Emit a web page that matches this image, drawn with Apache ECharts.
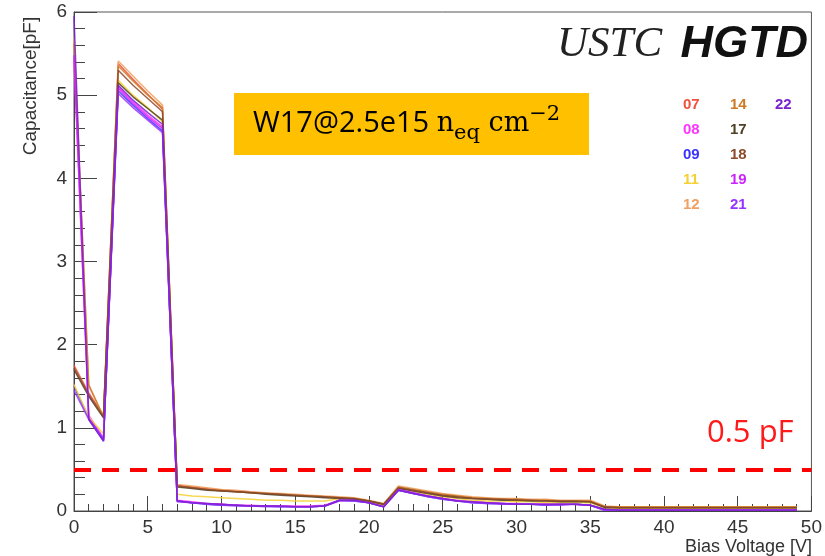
<!DOCTYPE html>
<html>
<head>
<meta charset="utf-8">
<script src="https://cdn.jsdelivr.net/npm/echarts@6/dist/echarts.min.js"></script>
<style>html,body{margin:0;padding:0;background:#fff;}#c{width:825px;height:556px;}</style>
</head>
<body>
<div id="c"></div>
<script>
const voltages = [0,1,2,3,4,5,6,7,8,9,10,11,12,13,14,15,16,17,18,19,20,21,22,23,24,25,26,27,28,29,30,31,32,33,34,35,36,37,38,39,40,41,42,43,44,45,46,47,48,49];

const s07 = [1.75,1.42,1.15,5.38,5.19,5.01,4.83,0.31,0.29,0.27,0.25,0.24,0.23,0.21,0.20,0.19,0.18,0.17,0.16,0.15,0.12,0.08,0.28,0.25,0.22,0.19,0.17,0.16,0.15,0.14,0.14,0.13,0.13,0.12,0.12,0.12,0.05,0.04,0.04,0.04,0.04,0.04,0.04,0.04,0.04,0.04,0.04,0.04,0.04,0.04];
const s08 = [5.42,1.15,0.88,5.10,4.92,4.76,4.62,0.13,0.11,0.09,0.08,0.07,0.07,0.06,0.06,0.06,0.06,0.07,0.13,0.13,0.10,0.06,0.26,0.22,0.18,0.15,0.13,0.11,0.10,0.09,0.09,0.08,0.08,0.08,0.08,0.07,0.02,0.02,0.02,0.02,0.02,0.02,0.02,0.02,0.02,0.02,0.02,0.02,0.02,0.02];
const s09 = [1.50,1.12,0.86,5.05,4.88,4.72,4.57,0.12,0.10,0.08,0.07,0.07,0.06,0.06,0.05,0.05,0.05,0.06,0.13,0.12,0.10,0.05,0.25,0.21,0.17,0.14,0.12,0.10,0.09,0.09,0.08,0.08,0.07,0.08,0.08,0.07,0.01,0.01,0.01,0.01,0.01,0.01,0.01,0.01,0.01,0.01,0.01,0.01,0.01,0.01];
const s11 = [1.52,1.13,0.93,5.18,5.00,4.85,4.68,0.20,0.18,0.17,0.16,0.15,0.14,0.13,0.13,0.12,0.12,0.12,0.15,0.14,0.11,0.07,0.29,0.24,0.20,0.17,0.15,0.13,0.12,0.12,0.11,0.11,0.10,0.10,0.10,0.10,0.04,0.03,0.03,0.03,0.03,0.03,0.03,0.03,0.03,0.03,0.03,0.03,0.03,0.03];
const s12 = [5.70,1.50,1.14,5.41,5.23,5.05,4.88,0.32,0.30,0.28,0.26,0.25,0.23,0.22,0.21,0.20,0.19,0.18,0.17,0.16,0.13,0.09,0.30,0.27,0.24,0.21,0.19,0.17,0.16,0.15,0.15,0.14,0.14,0.13,0.13,0.13,0.06,0.05,0.05,0.05,0.05,0.05,0.05,0.05,0.05,0.05,0.05,0.05,0.05,0.05];
const s14 = [5.62,1.52,1.13,5.35,5.17,5.00,4.85,0.30,0.28,0.26,0.25,0.23,0.22,0.21,0.20,0.19,0.18,0.17,0.16,0.15,0.12,0.08,0.29,0.26,0.23,0.20,0.18,0.16,0.15,0.14,0.14,0.13,0.13,0.12,0.12,0.12,0.05,0.05,0.05,0.05,0.05,0.05,0.05,0.05,0.05,0.05,0.05,0.05,0.05,0.05];
const s17 = [1.70,1.38,1.12,5.15,4.98,4.84,4.70,0.29,0.27,0.25,0.24,0.23,0.22,0.20,0.19,0.18,0.17,0.16,0.15,0.14,0.12,0.08,0.27,0.24,0.21,0.18,0.16,0.15,0.14,0.13,0.13,0.12,0.12,0.11,0.11,0.11,0.04,0.04,0.04,0.04,0.04,0.04,0.04,0.04,0.04,0.04,0.04,0.04,0.04,0.04];
const s18 = [1.72,1.40,1.13,5.30,5.12,4.96,4.80,0.30,0.28,0.26,0.24,0.23,0.22,0.21,0.20,0.19,0.18,0.17,0.16,0.15,0.12,0.08,0.28,0.25,0.22,0.19,0.17,0.15,0.14,0.14,0.13,0.13,0.12,0.12,0.12,0.11,0.05,0.04,0.04,0.04,0.04,0.04,0.04,0.04,0.04,0.04,0.04,0.04,0.04,0.04];
const s19 = [5.48,1.12,0.85,5.08,4.90,4.74,4.60,0.12,0.10,0.09,0.08,0.07,0.06,0.06,0.06,0.05,0.05,0.06,0.13,0.13,0.10,0.05,0.26,0.22,0.18,0.15,0.12,0.11,0.10,0.09,0.08,0.08,0.08,0.08,0.08,0.07,0.01,0.01,0.01,0.01,0.01,0.01,0.01,0.01,0.01,0.01,0.01,0.01,0.01,0.01];
const s21 = [1.45,1.10,0.84,5.02,4.85,4.70,4.55,0.11,0.10,0.08,0.07,0.06,0.06,0.05,0.05,0.05,0.05,0.06,0.12,0.12,0.10,0.05,0.25,0.21,0.17,0.14,0.12,0.10,0.09,0.08,0.08,0.08,0.07,0.07,0.08,0.07,0.01,0.01,0.01,0.01,0.01,0.01,0.01,0.01,0.01,0.01,0.01,0.01,0.01,0.01];
const s22 = [5.95,1.10,0.84,5.12,4.94,4.79,4.65,0.12,0.10,0.09,0.08,0.07,0.06,0.06,0.06,0.05,0.05,0.06,0.13,0.13,0.10,0.05,0.25,0.21,0.18,0.15,0.12,0.11,0.10,0.09,0.08,0.08,0.08,0.08,0.08,0.07,0.02,0.01,0.01,0.01,0.01,0.01,0.01,0.01,0.01,0.01,0.01,0.01,0.01,0.01];

const seriesNames = ['07','08','09','11','12','14','17','18','19','21','22'];
const seriesValues = [s07,s08,s09,s11,s12,s14,s17,s18,s19,s21,s22];
const seriesColors = ['#f0503c','#ff33ff','#3a33ff','#f5d030','#f0a060','#cc7a24','#4e4024','#8b4a2a','#cc22ff','#9933ff','#7a22cc'];
const threshold = 0.5;
const yTicks = [0,1,2,3,4,5,6];
const xTicks = [0,5,10,15,20,25,30,35,40,45,50];

const chart = echarts.init(document.getElementById('c'));
const series = seriesNames.map((n,i)=>({
  name:n, type:'line', symbol:'none', smooth:false,
  data: voltages.map((v,j)=>[v, seriesValues[i][j]]),
  lineStyle:{color:seriesColors[i], width:1.5, opacity:0.85},
  itemStyle:{color:seriesColors[i]},
  z:3
}));
series[0].markLine = {
  silent:true, symbol:'none', label:{show:false},
  lineStyle:{color:'#ff0000', width:4, type:[17,11]},
  data:[{yAxis:threshold}], z:5
};

function legendCol(names, left){
  return {
    left:left, top:92, orient:'vertical', itemGap:9,
    icon:'rect', itemWidth:1, itemHeight:16,
    itemStyle:{opacity:0},
    selectedMode:false,
    textStyle:{fontSize:15, fontWeight:'bold', fontFamily:'Liberation Sans'},
    data: names.map(n=>({name:n, textStyle:{color:seriesColors[seriesNames.indexOf(n)], fontSize:15, fontWeight:'bold'}}))
  };
}

chart.setOption({
  animation:false,
  backgroundColor:'#fff',
  grid:{left:74, right:9, top:12, bottom:45, show:true, borderColor:'#555', borderWidth:1},
  legend:[
    legendCol(['07','08','09','11','12'], 672),
    legendCol(['14','17','18','19','21'], 719),
    legendCol(['22'], 764)
  ],
  xAxis:{
    type:'value', min:0, max:50, interval:5,
    axisLine:{show:true, lineStyle:{color:'#444', width:1}},
    axisTick:{show:true, inside:true, length:15, lineStyle:{color:'#444'}},
    minorTick:{show:true, splitNumber:5, length:7, lineStyle:{color:'#444'}},
    splitLine:{show:false},
    axisLabel:{fontSize:19, color:'#333', margin:7, fontFamily:'Liberation Sans',
      formatter:v=> xTicks.includes(v)? String(v):''}
  },
  yAxis:{
    type:'value', min:0, max:6, interval:1,
    axisLine:{show:true, lineStyle:{color:'#444', width:1}},
    axisTick:{show:true, inside:true, length:23, lineStyle:{color:'#444'}},
    minorTick:{show:true, splitNumber:5, length:11, lineStyle:{color:'#444'}},
    splitLine:{show:false},
    axisLabel:{fontSize:19, color:'#333', margin:7, fontFamily:'Liberation Sans',
      formatter:v=> yTicks.includes(v)? String(v):''}
  },
  series:series,
  graphic:[
    {type:'text', x:31, y:86, rotation:Math.PI/2,
      style:{text:'Capacitance[pF]', fontSize:19, fill:'#333', fontFamily:'Liberation Sans', align:'center', verticalAlign:'middle'}},
    {type:'text', x:812, y:547,
      style:{text:'Bias Voltage [V]', fontSize:18, fill:'#333', fontFamily:'Liberation Sans', align:'right', verticalAlign:'middle'}},
    {type:'text', x:557, y:45,
      style:{text:'USTC', fontSize:43, fontStyle:'italic', fill:'#222', fontFamily:'Liberation Serif', align:'left', verticalAlign:'middle'}},
    {type:'text', x:808, y:45,
      style:{text:'HGTD', fontSize:45, fontStyle:'italic', fontWeight:'bold', fill:'#111', fontFamily:'Liberation Sans', align:'right', verticalAlign:'middle'}},
    {type:'text', x:707, y:433,
      style:{text:'0.5 pF', fontSize:31, fill:'#ff1a1a', fontFamily:'Open Sans', align:'left', verticalAlign:'middle'}},
    {type:'rect', shape:{x:234, y:93, width:355, height:62}, style:{fill:'#FFC000'}, z:10},
    {type:'text', x:253, y:124, z:11,
      style:{
        text:'{a|W17@2.5e15 }{b|n}{s|eq}{b| cm}{p|−2}',
        verticalAlign:'middle', align:'left',
        rich:{
          a:{fontSize:29, fontFamily:'Open Sans', fill:'#000', lineHeight:40, verticalAlign:'middle'},
          b:{fontSize:27, fontFamily:'DejaVu Serif', fill:'#000', lineHeight:40, verticalAlign:'middle'},
          s:{fontSize:21, fontFamily:'DejaVu Serif', fill:'#000', lineHeight:20, verticalAlign:'bottom'},
          p:{fontSize:21, fontFamily:'DejaVu Serif', fill:'#000', lineHeight:20, verticalAlign:'top'}
        }
      }}
  ]
});
</script>
</body>
</html>
